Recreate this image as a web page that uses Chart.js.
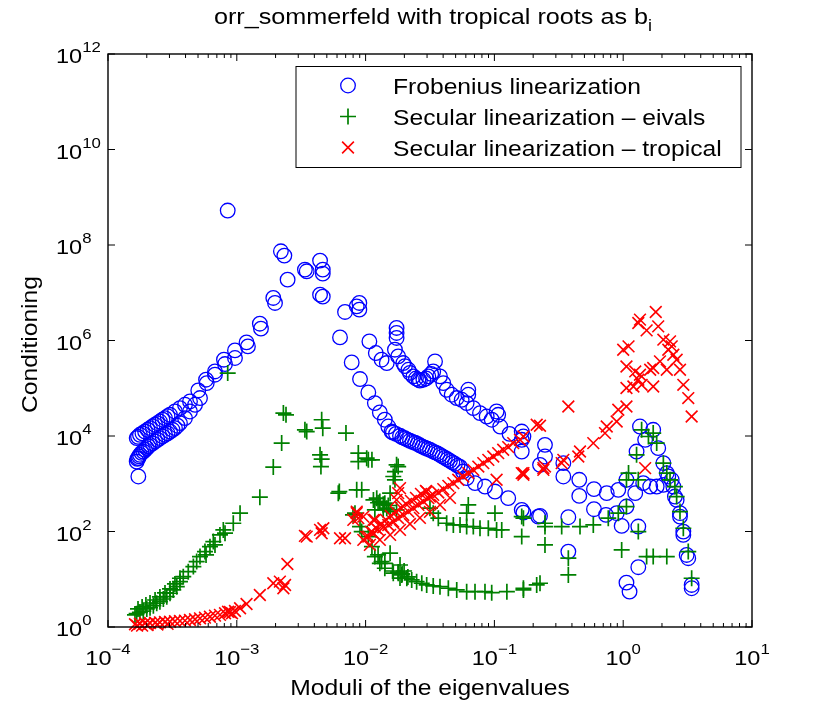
<!DOCTYPE html>
<html>
<head>
<meta charset="utf-8">
<script src="https://cdn.jsdelivr.net/npm/chart.js@4.4.0/dist/chart.umd.min.js"></script>
<style>
  html, body { margin: 0; background: #fff; }
</style>
</head>
<body>
<canvas id="chart" width="830" height="707"></canvas>
<script>
// data, [modulus, conditioning]
const frobenius = [
  [1.72e-4,1.42e3],[1.67e-4,2.92e3],[1.69e-4,3.33e3],[1.72e-4,3.44e3],[1.74e-4,3.75e3],[1.77e-4,4.03e3],[1.82e-4,4.45e3],
  [1.88e-4,4.73e3],[1.94e-4,5.14e3],[2.00e-4,5.57e3],[2.06e-4,6.08e3],[2.12e-4,6.53e3],[2.22e-4,7.03e3],[2.32e-4,7.67e3],
  [2.42e-4,8.32e3],[2.53e-4,9.03e3],[2.65e-4,9.86e3],[2.77e-4,1.06e4],[2.90e-4,1.14e4],[3.03e-4,1.24e4],[3.17e-4,1.35e4],
  [3.31e-4,1.46e4],[3.46e-4,1.64e4],[3.62e-4,1.86e4],[3.96e-4,2.37e4],[4.33e-4,3.26e4],[4.74e-4,4.51e4],[5.18e-4,6.23e4],
  [1.67e-4,9.03e3],[1.71e-4,9.62e3],[1.77e-4,1.06e4],[1.85e-4,1.14e4],[1.94e-4,1.24e4],[2.03e-4,1.35e4],[2.12e-4,1.46e4],
  [2.22e-4,1.60e4],[2.32e-4,1.72e4],[2.42e-4,1.85e4],[2.53e-4,2.01e4],[2.65e-4,2.19e4],[2.77e-4,2.37e4],[2.90e-4,2.59e4],
  [3.03e-4,2.78e4],[3.31e-4,3.26e4],[3.62e-4,3.84e4],[3.96e-4,4.51e4],[4.33e-4,5.29e4],
  [5.02e-4,8.99e4],[5.77e-4,1.51e5],[5.84e-4,1.28e5],[6.77e-4,2.25e5],[6.77e-4,1.92e5],[7.95e-4,3.96e5],[8.10e-4,3.21e5],
  [9.68e-4,6.20e5],[9.68e-4,4.30e5],[1.19e-3,9.12e5],[1.22e-3,7.52e5],[1.51e-3,2.25e6],[1.54e-3,1.77e6],[1.92e-3,7.78e6],
  [1.98e-3,6.11e6],[2.20e-3,7.38e7],[2.34e-3,6.00e7],[2.48e-3,1.88e7],[3.38e-3,3.05e7],[3.49e-3,2.81e7],[4.43e-3,4.71e7],
  [4.65e-3,3.05e7],[4.65e-3,2.51e7],[4.43e-3,9.12e6],[4.65e-3,8.28e6],[8.50e-4,5.26e8],
  [6.92e-3,3.96e6],[6.33e-3,1.16e6],[7.80e-3,3.48e5],[8.53e-3,5.19e6],[8.94e-3,6.11e6],[8.94e-3,4.43e6],[1.07e-2,9.58e5],
  [9.05e-3,1.56e5],[1.05e-2,8.17e4],[1.18e-2,4.89e4],[1.29e-2,3.11e4],[1.41e-2,2.19e4],[1.50e-2,1.58e4],[1.59e-2,1.24e4],
  [1.63e-2,1.18e4],[1.72e-2,1.11e4],[1.85e-2,1.01e4],[1.93e-2,9.4e3],[2.02e-2,8.95e3],[2.11e-2,8.4e3],[2.21e-2,7.93e3],
  [2.31e-2,7.5e3],[2.42e-2,7.20e3],[2.53e-2,6.8e3],[2.64e-2,6.38e3],[2.76e-2,6.0e3],[2.89e-2,5.66e3],[3.02e-2,5.4e3],
  [3.16e-2,5.14e3],[3.31e-2,4.8e3],[3.46e-2,4.55e3],[3.62e-2,4.3e3],[3.78e-2,4.03e3],[3.95e-2,3.75e3],[4.13e-2,3.49e3],
  [4.32e-2,3.25e3],[4.52e-2,3.02e3],[4.72e-2,2.8e3],[4.94e-2,2.61e3],[5.17e-2,2.4e3],[5.41e-2,2.26e3],[5.7e-2,1.8e3],
  [6.09e-2,1.31e3],[7.07e-2,1.03e3],[8.45e-2,873],[0.101,686],[0.128,499],[0.163,284],[0.219,205],
  [1.20e-2,5.47e5],[1.33e-2,3.96e5],[1.46e-2,3.37e5],[1.74e-2,1.83e6],[1.74e-2,1.44e6],[1.74e-2,1.13e6],[1.69e-2,6.41e5],
  [1.79e-2,4.65e5],[1.96e-2,3.37e5],[2.02e-2,2.9e5],[2.15e-2,2.44e5],[2.21e-2,2.1e5],[2.35e-2,1.77e5],[2.46e-2,1.6e5],
  [2.57e-2,1.51e5],[2.64e-2,1.45e5],[2.81e-2,1.51e5],[2.95e-2,1.6e5],[3.07e-2,1.77e5],[3.23e-2,2.0e5],[3.35e-2,2.25e5],
  [3.46e-2,3.65e5],[3.78e-2,1.77e5],[4.01e-2,1.28e5],[4.26e-2,9.30e4],[4.66e-2,7.31e4],[5.10e-2,6.23e4],[5.57e-2,5.74e4],
  [6.09e-2,4.89e4],[6.27e-2,9.30e4],[6.27e-2,7.31e4],[6.86e-2,3.84e4],[7.73e-2,3.02e4],[8.71e-2,2.56e4],[9.53e-2,2.19e4],
  [0.104,3.26e4],[0.107,2.78e4],[0.111,1.58e4],[0.131,1.11e4],[0.163,1.24e4],[0.163,8.32e3],[0.163,4.73e3],[0.168,9.76e3],
  [0.247,6.53e3],[0.247,3.72e3],[0.226,2.49e3],
  [0.343,2.70e3],[0.343,1.42e3],[0.456,1.21e3],[0.456,557],[0.593,771],[0.593,293],[0.745,635],[0.735,223],[0.916,745],
  [0.890,242],[0.973,131],[1.06,1.21e3],[1.06,333],[1.24,635],[1.31,127],[1.31,17.9],[1.06,8.49],[1.12,5.50],[0.375,199],
  [0.375,37.9],[0.226,212],[0.168,249],[1.35,1.58e4],[1.71,1.35e4],[1.48,8.32e3],[1.87,5.57e3],[1.27,4.73e3],[1.43,1.03e3],
  [1.62,873],[1.82,873],[2.05,948],[2.24,1.42e3],[2.38,1.21e3],[2.05,2.70e3],[2.18,1.67e3],[2.45,873],[2.52,539],[2.60,459],
  [2.76,242],[2.76,205],[2.93,99.5],[2.93,84.9],[3.11,32.3],[3.20,27.6],[3.40,7.59],[3.40,6.48]
];

const secularEivals = [
  [1.62e-4,1.79],[1.67e-4,1.90],[1.77e-4,2.03],[1.88e-4,2.16],[2.00e-4,2.39],[2.12e-4,2.54],[2.25e-4,2.80],[2.39e-4,3.14],
  [2.53e-4,3.39],[2.69e-4,3.86],[2.86e-4,4.32],[3.03e-4,5.09],[3.21e-4,5.97],[3.42e-4,7.00],[3.62e-4,8.91],[3.84e-4,11.3],
  [4.20e-4,14.4],[4.60e-4,18.4],[4.88e-4,23.4],[5.18e-4,29.8],[5.66e-4,37.9],[6.19e-4,48.2],[6.57e-4,61.4],[7.40e-4,84.9],
  [7.86e-4,108],[9.39e-4,149],[1.06e-3,242],
  [1.71e-4,2.39],[1.84e-4,2.63],[1.97e-4,2.89],[2.12e-4,3.18],[2.32e-4,3.68],[2.53e-4,4.26],[2.77e-4,5.16],[3.03e-4,6.26],
  [3.31e-4,7.97],[3.62e-4,10.5],[6.77e-4,52.4],[5.77e-4,32.3],[8.10e-4,92.1],
  [1.51e-3,524],[1.92e-3,2.23e3],[2.23e-3,7.10e3],[2.30e-3,3.02e4],[2.41e-3,2.78e4],[3.38e-3,1.35e4],[3.49e-3,1.24e4],
  [4.56e-3,2.19e4],[4.65e-3,1.46e4],[7.04e-3,1.15e4],[4.43e-3,4.03e3],[4.56e-3,3.28e3],[4.50e-3,2.29e3],[6.14e-3,635],
  [8.53e-3,745],[7.98e-3,223],[8.50e-4,2.08e5],
  [8.78e-3,4.38e3],[8.78e-3,2.92e3],[1.05e-2,3.17e3],[1.74e-2,2.49e3],[1.69e-2,1.80e3],[1.64e-2,1.42e3],[1.69e-2,1.21e3],
  [6.25e-3,686],[1.15e-2,459],[1.29e-2,424],[1.41e-2,392],[1.46e-2,308],[1.55e-2,635],[8.27e-3,242],[9.05e-3,127],
  [9.33e-3,99.5],[1.05e-2,78.2],[1.12e-2,48.2],[1.18e-2,29.8],[1.29e-2,21.6],[1.41e-2,17.0],
  [1.02e-2,3.44e3],[1.12e-2,3.17e3],[9.33e-3,745],[1.79e-2,2.29e3],[1.22e-2,499],[1.18e-2,284],[1.37e-2,284],[1.55e-2,261],
  [1.74e-2,284],[3.16e-2,308],[3.35e-2,242],[3.67e-2,190],[6.27e-2,361],[6.09e-2,242],[4.26e-2,149],[4.80e-2,137],
  [5.41e-2,137],[6.09e-2,127],[6.86e-2,127],[7.73e-2,117],[8.97e-2,117],[0.104,108],[0.114,108],[0.101,242],[0.163,205],
  [0.163,78.2],[0.247,127],[0.247,52.4],[1.25e-2,400],[1.37e-2,370],[1.50e-2,350],
  [1.25e-2,32.3],[1.33e-2,23.4],[1.41e-2,21.6],[1.55e-2,35.1],[1.85e-2,19.9],[1.62e-2,14.9],[1.64e-2,13.4],[1.79e-2,13.4],
  [1.79e-2,14.2],[1.92e-2,12.9],[1.99e-2,14.9],[1.85e-2,10.6],[2.13e-2,11.2],
  [1.91e-2,12.3],[2.09e-2,10.5],[2.28e-2,9.67],[2.49e-2,8.91],[2.73e-2,8.24],[2.98e-2,7.59],[3.35e-2,7.24],[3.78e-2,7.00],
  [4.39e-2,6.48],[5.10e-2,5.97],[6.09e-2,5.50],[7.07e-2,5.50],[8.45e-2,5.50],[9.53e-2,5.24],[0.125,5.50],[0.168,5.97],
  [0.213,7.59],
  [1.39,1.35e4],[1.57,9.76e3],[1.71,1.15e4],[1.82,7.10e3],[1.27,4.03e3],[2.05,2.70e3],[2.18,1.67e3],[2.31,1.21e3],
  [2.52,873],[2.60,539],[1.10,1.67e3],[1.06,1.21e3],[1.31,1.21e3],[1.06,333],[0.916,242],[0.766,190],[2.76,261],[2.93,117],
  [3.20,37.9],[3.40,10.5],[0.586,137],[0.462,127],[0.333,127],[0.247,149],[0.168,190],[1.31,99.5],[0.973,41.1],[1.52,29.8],
  [1.71,29.8],[2.18,29.8],[0.375,27.6],[0.375,12.3],[0.226,8.24],[0.168,6.48]
];

const secularTropical = [
  [1.62e-4,1.14],[1.68e-4,1.07],[1.77e-4,1.17],[1.84e-4,1.07],[1.94e-4,1.20],[2.03e-4,1.10],[2.12e-4,1.21],[2.32e-4,1.23],
  [2.42e-4,1.13],[2.53e-4,1.25],[2.77e-4,1.27],[2.90e-4,1.16],[3.03e-4,1.29],[3.31e-4,1.32],[3.62e-4,1.34],[3.96e-4,1.36],
  [4.33e-4,1.40],[4.74e-4,1.45],[5.18e-4,1.52],[5.66e-4,1.57],[6.19e-4,1.64],[6.77e-4,1.73],[7.40e-4,1.79],[8.10e-4,1.94],
  [8.55e-4,2.09],[9.18e-4,1.94],[8.85e-4,2.06],[9.68e-4,2.16],[1.06e-3,2.47],[1.19e-3,3.03],[1.51e-3,4.69],[1.92e-3,8.24],
  [2.16e-3,8.91],[2.37e-3,7.59],[2.30e-3,6.48],[2.47e-3,20.9],
  [3.38e-3,80.9],[3.49e-3,78.2],[4.43e-3,108],[4.56e-3,92.1],[4.70e-3,117],[6.33e-3,72.4],[6.92e-3,72.4],[8.03e-3,175],
  [8.53e-3,242],[8.78e-3,190],[1.18e-2,175],[8.53e-3,261],
  [9.60e-3,66.7],[1.05e-2,78.2],[1.15e-2,92.1],[1.25e-2,108],[1.37e-2,123],[1.50e-2,137],[1.64e-2,161],[1.79e-2,190],
  [1.96e-2,223],[2.15e-2,261],[2.35e-2,308],[2.57e-2,361],[2.81e-2,424],[3.07e-2,499],[3.35e-2,585],[3.67e-2,654],
  [4.01e-2,771],[4.39e-2,904],[4.80e-2,1.03e3],[5.24e-2,1.21e3],[5.73e-2,1.42e3],[6.27e-2,1.67e3],[6.86e-2,1.95e3],
  [7.50e-2,2.29e3],[8.20e-2,2.70e3],[8.97e-2,3.17e3],[9.80e-2,3.72e3],[0.107,4.38e3],[0.117,5.14e3],[0.128,5.85e3],
  [0.140,7.10e3],[0.158,8.32e3],
  [1.01e-2,77.1],[1.10e-2,98.1],[1.20e-2,119],[1.32e-2,144],[1.44e-2,175],[1.57e-2,212],[1.72e-2,258],[1.88e-2,312],
  [2.06e-2,379],[2.25e-2,438],[2.46e-2,506],[2.69e-2,614],[2.94e-2,710],
  [1.08e-2,52.4],[1.29e-2,66.7],[1.55e-2,84.9],[1.85e-2,108],[2.21e-2,144],[2.64e-2,193],[3.16e-2,258],[3.78e-2,361],
  [4.52e-2,506],
  [1.15e-2,175],[9.60e-3,205],[1.79e-2,635],[1.85e-2,809],[2.98e-2,686],[3.16e-2,539],[0.104,1.21e3],[0.168,1.67e3],
  [0.213,1.72e4],[1.74e-2,459],[0.163,1.67e3],[0.240,2.12e3],
  [1.79,3.96e6],[1.35,2.73e6],[1.31,2.33e6],[1.52,1.63e6],[1.87,1.98e6],[2.05,1.04e6],[2.31,9.58e5],[2.38,7.52e5],
  [2.24,6.41e5],[2.45,5.04e5],[2.60,3.96e5],[1.00,6.41e5],[1.10,7.52e5],[1.06,2.86e5],[1.24,2.25e5],[1.35,1.92e5],
  [1.31,1.51e5],[1.62,2.44e5],[1.71,2.65e5],[1.93,3.65e5],[2.18,2.44e5],[2.76,2.44e5],[2.93,1.18e5],[3.20,6.23e4],
  [3.40,2.56e4],[1.06,1.01e5],[1.20,1.09e5],[1.39,1.18e5],[1.71,1.09e5],[1.06,4.15e4],[0.916,3.54e4],[0.890,2.01e4],
  [0.745,1.58e4],[0.722,1.15e4],[0.586,7.10e3],[0.462,4.73e3],[0.448,3.72e3],[0.343,3.17e3],[0.333,2.70e3],[0.375,4.15e4],
  [0.226,1.64e4],[0.247,2.29e3],[0.240,1.95e3],[0.168,1.54e3],[0.168,9.76e3],[1.48,2.12e3]
];

const seriesLabels = ['Frobenius linearization', 'Secular linearization \u2013 eivals', 'Secular linearization \u2013 tropical'];
const xTickExps = [-4, -3, -2, -1, 0, 1];
const yTickExps = [0, 2, 4, 6, 8, 10, 12];
const titleText = 'orr_sommerfeld with tropical roots as b';
const titleSub = 'i';
const xTitle = 'Moduli of the eigenvalues';
const yTitle = 'Conditioning';

const FONT = '"Liberation Sans", Arial, Helvetica, sans-serif';
const SX = 1.12; // the picture's text is a little wider than plain Arial

function stretchText(ctx, s, x, y, size, align) {
  ctx.save();
  ctx.font = size + 'px ' + FONT;
  const w = ctx.measureText(s).width * SX;
  const x0 = align === 'center' ? x - w / 2 : (align === 'right' ? x - w : x);
  ctx.translate(x0, y);
  ctx.scale(SX, 1);
  ctx.textAlign = 'left';
  ctx.textBaseline = 'alphabetic';
  ctx.fillText(s, 0, 0);
  ctx.restore();
  return w;
}

function textWidth(ctx, s, size) {
  ctx.font = size + 'px ' + FONT;
  return ctx.measureText(s).width * SX;
}

// "10" with a raised exponent
function powLabel(ctx, e, x, y, align) {
  const exp = e < 0 ? '\u2212' + (-e) : String(e);
  const wb = textWidth(ctx, '10', 21);
  const we = textWidth(ctx, exp, 15);
  const x0 = align === 'center' ? x - (wb + we) / 2 : x;
  stretchText(ctx, '10', x0, y, 21, 'left');
  stretchText(ctx, exp, x0 + wb, y - 11, 15, 'left');
}

function marker(ctx, style, x, y, r) {
  ctx.beginPath();
  if (style === 'circle') {
    ctx.arc(x, y, r, 0, Math.PI * 2);
  } else if (style === 'cross') {
    ctx.moveTo(x - r, y); ctx.lineTo(x + r, y);
    ctx.moveTo(x, y - r); ctx.lineTo(x, y + r);
  } else {
    const d = r * Math.SQRT1_2;
    ctx.moveTo(x - d, y - d); ctx.lineTo(x + d, y + d);
    ctx.moveTo(x - d, y + d); ctx.lineTo(x + d, y - d);
  }
  ctx.stroke();
}

const whiteBg = {
  id: 'whiteBg',
  beforeDraw(chart) {
    const ctx = chart.ctx;
    ctx.save();
    ctx.fillStyle = '#fff';
    ctx.fillRect(0, 0, chart.width, chart.height);
    ctx.restore();
  }
};

// matlab style box with inward ticks on all four sides
const axesBox = {
  id: 'axesBox',
  afterDatasetsDraw(chart) {
    const { ctx, chartArea: a, scales: { x, y } } = chart;
    ctx.save();
    ctx.strokeStyle = '#000';
    ctx.lineWidth = 1;
    ctx.beginPath();
    xTickExps.forEach((e, i) => {
      const px = x.getPixelForValue(Math.pow(10, e));
      ctx.moveTo(px, a.bottom); ctx.lineTo(px, a.bottom - 7);
      ctx.moveTo(px, a.top); ctx.lineTo(px, a.top + 7);
      if (i < xTickExps.length - 1) {
        for (let k = 2; k <= 9; k++) {
          const pm = x.getPixelForValue(k * Math.pow(10, e));
          ctx.moveTo(pm, a.bottom); ctx.lineTo(pm, a.bottom - 4);
          ctx.moveTo(pm, a.top); ctx.lineTo(pm, a.top + 4);
        }
      }
    });
    yTickExps.forEach(e => {
      const py = y.getPixelForValue(Math.pow(10, e));
      ctx.moveTo(a.left, py); ctx.lineTo(a.left + 7, py);
      ctx.moveTo(a.right, py); ctx.lineTo(a.right - 7, py);
    });
    ctx.stroke();
    ctx.lineWidth = 1.4;
    ctx.strokeRect(a.left, a.top, a.right - a.left, a.bottom - a.top);

    ctx.fillStyle = '#000';
    xTickExps.forEach(e => powLabel(ctx, e, x.getPixelForValue(Math.pow(10, e)), a.bottom + 38, 'center'));
    yTickExps.forEach(e => powLabel(ctx, e, a.left - 52, y.getPixelForValue(Math.pow(10, e)) + 9, 'left'));

    // title with subscript
    const cx = (a.left + a.right) / 2 + 3;
    const wt = textWidth(ctx, titleText, 22.5);
    const ws = textWidth(ctx, titleSub, 16);
    const t0 = cx - (wt + ws) / 2;
    stretchText(ctx, titleText, t0, 24, 22.5, 'left');
    stretchText(ctx, titleSub, t0 + wt, 31, 16, 'left');

    stretchText(ctx, xTitle, (a.left + a.right) / 2, 695, 22, 'center');
    ctx.save();
    ctx.translate(37, (a.top + a.bottom) / 2 + 4);
    ctx.rotate(-Math.PI / 2);
    stretchText(ctx, yTitle, 0, 0, 22, 'center');
    ctx.restore();

    // legend box
    const lx = a.left + 188, ly = a.top + 12.5, lw = 445, lh = 101;
    ctx.fillStyle = '#fff';
    ctx.fillRect(lx, ly, lw, lh);
    ctx.lineWidth = 1;
    ctx.strokeRect(lx, ly, lw, lh);
    chart.data.datasets.forEach((ds, i) => {
      const rowY = ly + 19 + i * 31;
      ctx.strokeStyle = ds.borderColor;
      ctx.lineWidth = ds.borderWidth;
      marker(ctx, ds.pointStyle, lx + 52, rowY, ds.pointRadius);
      ctx.fillStyle = '#000';
      stretchText(ctx, ds.label, lx + 97, rowY + 8, 22, 'left');
    });
    ctx.restore();
  }
};

new Chart(document.getElementById('chart'), {
  type: 'scatter',
  data: {
    datasets: [
      {
        label: seriesLabels[0], data: frobenius, pointStyle: 'circle', pointRadius: 7.3,
        borderColor: '#0000ff', backgroundColor: 'rgba(0,0,0,0)', borderWidth: 1.3, order: 3, clip: false
      },
      {
        label: seriesLabels[1], data: secularEivals, pointStyle: 'cross', pointRadius: 8,
        borderColor: '#008000', backgroundColor: '#008000', borderWidth: 1.7, order: 2, clip: false
      },
      {
        label: seriesLabels[2], data: secularTropical, pointStyle: 'crossRot', pointRadius: 8.3,
        borderColor: '#ff0000', backgroundColor: '#ff0000', borderWidth: 1.6, order: 1, clip: false
      }
    ]
  },
  options: {
    responsive: false,
    animation: false,
    events: [],
    layout: { padding: { left: 108, top: 54, right: 78, bottom: 80 } },
    plugins: { legend: { display: false }, title: { display: false }, tooltip: { enabled: false } },
    scales: {
      x: { type: 'logarithmic', min: 1e-4, max: 10, display: false },
      y: { type: 'logarithmic', min: 1, max: 1e12, display: false }
    }
  },
  plugins: [whiteBg, axesBox]
});
</script>
</body>
</html>
